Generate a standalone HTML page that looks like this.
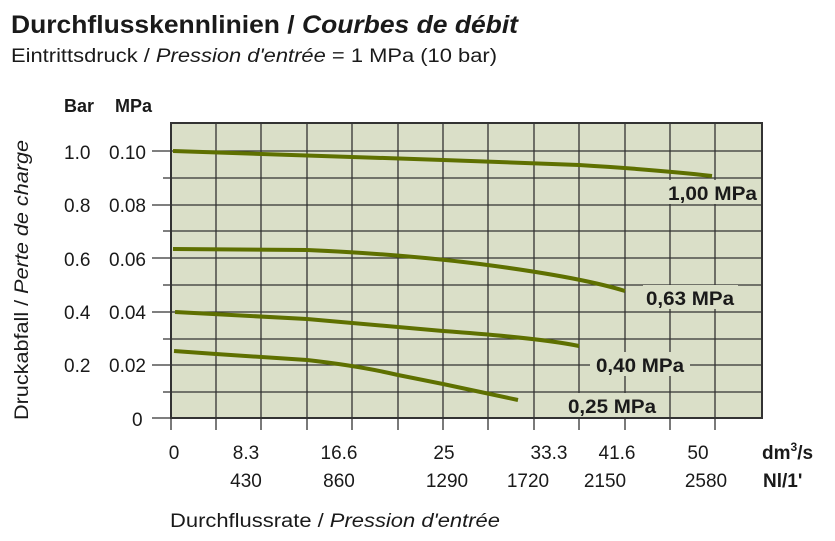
<!DOCTYPE html>
<html><head><meta charset="utf-8"><style>
body{margin:0;background:#fff;width:835px;height:536px;overflow:hidden;font-family:"Liberation Sans",Arial,sans-serif;}
</style></head><body>
<svg width="835" height="536" xmlns="http://www.w3.org/2000/svg" font-family="Liberation Sans, Arial, sans-serif" fill="#1a1a1a">
<text x="11" y="33" font-size="25" font-weight="bold" textLength="507" lengthAdjust="spacingAndGlyphs">Durchflusskennlinien / <tspan font-style="italic">Courbes de débit</tspan></text>
<text x="11" y="62" font-size="19" textLength="486" lengthAdjust="spacingAndGlyphs">Eintrittsdruck / <tspan font-style="italic">Pression d'entrée</tspan> = 1 MPa (10 bar)</text>
<rect x="171" y="123" width="591" height="295" fill="#dadfc8"/>
<g stroke="#333" stroke-width="1.3">
<line x1="216" y1="123" x2="216" y2="418"/><line x1="261" y1="123" x2="261" y2="430"/><line x1="307" y1="123" x2="307" y2="418"/><line x1="352" y1="123" x2="352" y2="430"/><line x1="398" y1="123" x2="398" y2="418"/><line x1="443" y1="123" x2="443" y2="430"/><line x1="488" y1="123" x2="488" y2="418"/><line x1="534" y1="123" x2="534" y2="430"/><line x1="579" y1="123" x2="579" y2="430"/><line x1="625" y1="123" x2="625" y2="430"/><line x1="670" y1="123" x2="670" y2="430"/><line x1="715" y1="123" x2="715" y2="430"/>
<line x1="216" y1="418" x2="216" y2="430"/><line x1="307" y1="418" x2="307" y2="430"/><line x1="398" y1="418" x2="398" y2="430"/><line x1="488" y1="418" x2="488" y2="430"/><line x1="171" y1="418" x2="171" y2="430"/>
<line x1="152" y1="151" x2="762" y2="151"/><line x1="163" y1="178" x2="762" y2="178"/><line x1="152" y1="205" x2="762" y2="205"/><line x1="163" y1="231" x2="762" y2="231"/><line x1="152" y1="258" x2="762" y2="258"/><line x1="163" y1="285" x2="762" y2="285"/><line x1="152" y1="312" x2="762" y2="312"/><line x1="163" y1="339" x2="762" y2="339"/><line x1="152" y1="365" x2="762" y2="365"/><line x1="163" y1="392" x2="762" y2="392"/><line x1="152" y1="418" x2="171" y2="418"/>
</g>
<rect x="171" y="123" width="591" height="295" fill="none" stroke="#333" stroke-width="2"/>
<g fill="none" stroke="#5e7000" stroke-width="4" stroke-linecap="butt">
<path d="M173 151 L443 160 L579 165 Q660 170 712 176"/>
<path d="M173 249 L307 250 Q400 254 480 264 Q580 277 625 291"/>
<path d="M175 312 L307 319 L443 331 Q540 338 579 346"/>
<path d="M174 351 L216 354 L307 360 Q360 366 398 375 L443 384 Q490 394 518 400"/>
</g>
<g font-size="19" font-weight="bold">
<rect x="665" y="180" width="95" height="24" fill="#dadfc8"/><text x="668" y="200" textLength="89" lengthAdjust="spacingAndGlyphs">1,00 MPa</text>
<rect x="643" y="285" width="95" height="24" fill="#dadfc8"/><text x="646" y="305" textLength="88" lengthAdjust="spacingAndGlyphs">0,63 MPa</text>
<rect x="590" y="352" width="100" height="24" fill="#dadfc8"/><text x="596" y="372" textLength="88" lengthAdjust="spacingAndGlyphs">0,40 MPa</text>
<rect x="565" y="393" width="95" height="24" fill="#dadfc8"/><text x="568" y="413" textLength="88" lengthAdjust="spacingAndGlyphs">0,25 MPa</text>
</g>
<text x="64" y="112" font-size="18" font-weight="bold">Bar</text>
<text x="115" y="112" font-size="18" font-weight="bold">MPa</text>
<g font-size="19">
<text x="64" y="159">1.0</text><text x="109" y="159">0.10</text>
<text x="64" y="212">0.8</text><text x="109" y="212">0.08</text>
<text x="64" y="266">0.6</text><text x="109" y="266">0.06</text>
<text x="64" y="319">0.4</text><text x="109" y="319">0.04</text>
<text x="64" y="372">0.2</text><text x="109" y="372">0.02</text>
<text x="132" y="426">0</text>
</g>
<text transform="translate(28,280) rotate(-90)" font-size="19" text-anchor="middle" textLength="280" lengthAdjust="spacingAndGlyphs">Druckabfall / <tspan font-style="italic">Perte de charge</tspan></text>
<g font-size="19" text-anchor="middle">
<text x="174" y="459">0</text><text x="246" y="459">8.3</text><text x="339" y="459">16.6</text><text x="444" y="459">25</text><text x="549" y="459">33.3</text><text x="617" y="459">41.6</text><text x="698" y="459">50</text>
<text x="246" y="487">430</text><text x="339" y="487">860</text><text x="447" y="487">1290</text><text x="528" y="487">1720</text><text x="605" y="487">2150</text><text x="706" y="487">2580</text>
</g>
<text x="762" y="459" font-size="19" font-weight="bold">dm<tspan font-size="12" dy="-8">3</tspan><tspan dy="8">/s</tspan></text>
<text x="763" y="487" font-size="19" font-weight="bold">Nl/1'</text>
<text x="170" y="527" font-size="19" textLength="330" lengthAdjust="spacingAndGlyphs">Durchflussrate / <tspan font-style="italic">Pression d'entrée</tspan></text>
</svg>
</body></html>
